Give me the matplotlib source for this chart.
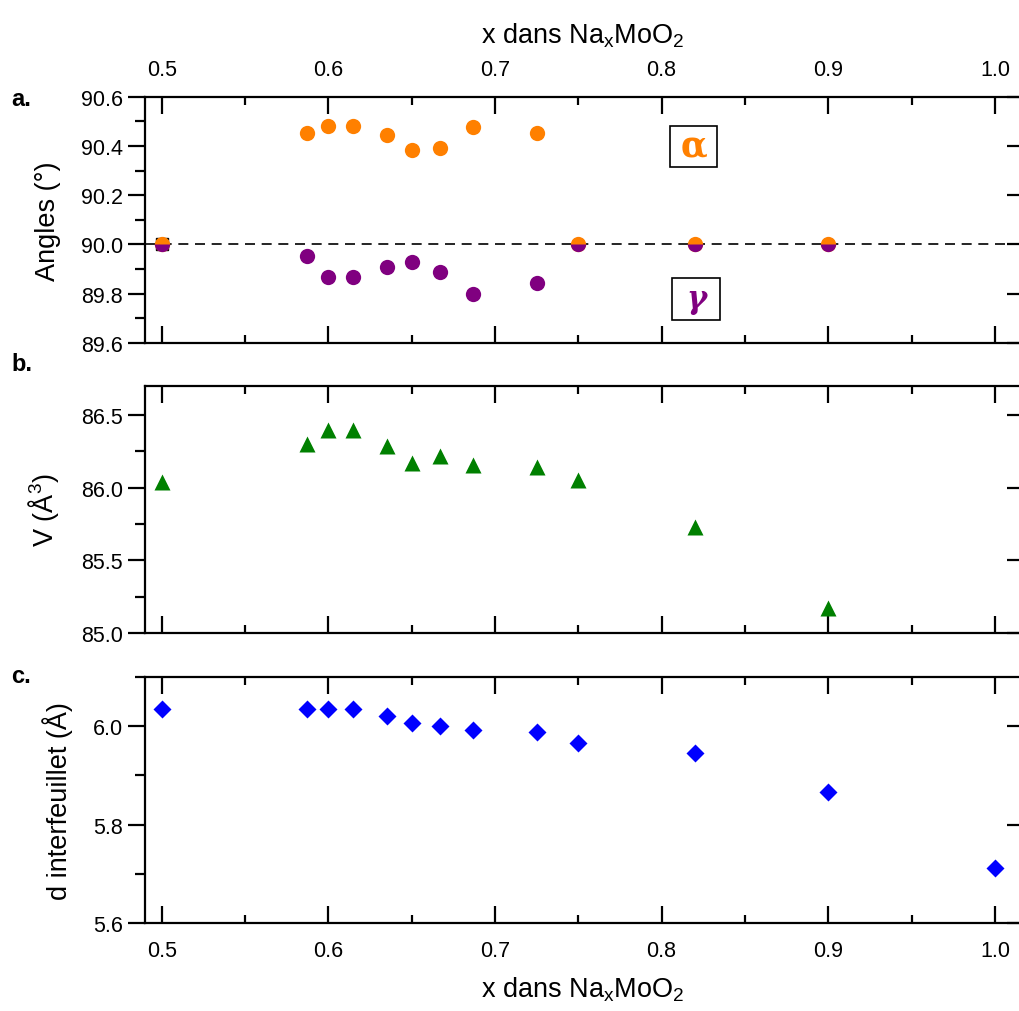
import numpy as np
import matplotlib
matplotlib.use('Agg')
import matplotlib.pyplot as plt
from matplotlib.ticker import MultipleLocator, FormatStrFormatter
from matplotlib.patches import Rectangle

plt.rcParams['font.family'] = ['Liberation Sans', 'DejaVu Sans']
plt.rcParams['mathtext.fontset'] = 'custom'
plt.rcParams['mathtext.rm'] = 'Liberation Sans'
plt.rcParams['mathtext.it'] = 'Liberation Sans'

# Sodium content x in NaxMoO2
x_angles = [0.5, 0.587, 0.6, 0.615, 0.635, 0.65, 0.667, 0.687, 0.725, 0.75, 0.82, 0.9]
alpha = [90.0, 90.451, 90.482, 90.482, 90.444, 90.385, 90.39, 90.477, 90.454, 90.0, 90.0, 90.0]
gamma = [90.0, 89.952, 89.869, 89.869, 89.91, 89.93, 89.887, 89.80, 89.842, 90.0, 90.0, 90.0]
beta_x = [0.5]
beta = [90.0]

x_vol = [0.5, 0.587, 0.6, 0.615, 0.635, 0.65, 0.667, 0.687, 0.725, 0.75, 0.82, 0.9]
volume = [86.04, 86.30, 86.40, 86.40, 86.29, 86.17, 86.22, 86.155, 86.14, 86.05, 85.73, 85.175]

x_d = [0.5, 0.587, 0.6, 0.615, 0.635, 0.65, 0.667, 0.687, 0.725, 0.75, 0.82, 0.9, 1.0]
d_inter = [6.035, 6.034, 6.034, 6.034, 6.020, 6.0075, 6.0014, 5.992, 5.988, 5.966, 5.946, 5.866, 5.713]

xlabel = 'x dans Na$_x$MoO$_2$'

fig = plt.figure(figsize=(10.2, 10.12), dpi=100)
left, width = 0.1422, 0.8585
ax1 = fig.add_axes([left, 0.6601, width, 0.2434])
ax2 = fig.add_axes([left, 0.3735, width, 0.2441])
ax3 = fig.add_axes([left, 0.0867, width, 0.2434])

for ax in (ax1, ax2, ax3):
    ax.set_xlim(0.49, 1.0155)
    ax.xaxis.set_major_locator(MultipleLocator(0.1))
    ax.xaxis.set_minor_locator(MultipleLocator(0.05))
    ax.xaxis.set_major_formatter(FormatStrFormatter('%.1f'))
    ax.yaxis.set_major_formatter(FormatStrFormatter('%.1f'))
    for s in ax.spines.values():
        s.set_linewidth(1.6)
    ax.tick_params(axis='x', which='both', direction='in', top=True, bottom=True,
                   labelbottom=False, labeltop=False, width=1.6, labelsize=15.5, pad=12)
    ax.tick_params(axis='x', which='major', length=12)
    ax.tick_params(axis='x', which='minor', length=6)
    ax.tick_params(axis='y', which='both', direction='out', width=1.6, labelsize=15.5, pad=4)
    ax.tick_params(axis='y', which='major', length=12)
    ax.tick_params(axis='y', which='minor', length=7)

# panel a: angles
ax1.axhline(90.0, color='black', lw=1.2, dashes=(6, 4), zorder=1)
ax1.plot(beta_x, beta, 's', color='black', ms=9, zorder=2)
ax1.plot(x_angles, alpha, 'o', color='#FF8000', mec='none', ms=11, zorder=3)
same = np.isclose(alpha, gamma)
xa = np.array(x_angles)
ga = np.array(gamma)
ax1.plot(xa[~same], ga[~same], 'o', color='#800080', mec='none', ms=11, zorder=4)
ax1.plot(xa[same], ga[same], 'o', color='#800080', mec='none', ms=11,
         fillstyle='bottom', markerfacecoloralt='none', zorder=4)
ax1.set_ylim(89.6, 90.6)
ax1.yaxis.set_major_locator(MultipleLocator(0.2))
ax1.yaxis.set_minor_locator(MultipleLocator(0.1))
ax1.set_ylabel('Angles (°)', fontsize=19.5, labelpad=14)
ax1.tick_params(axis='x', which='both', labeltop=True)
ax1.set_xlabel(xlabel, fontsize=19.5, labelpad=12)
ax1.xaxis.set_label_position('top')

ax1.add_patch(Rectangle((0.600, 0.7134), 0.0534, 0.1689, transform=ax1.transAxes,
                        fill=False, ec='black', lw=1.2, zorder=5))
ax1.text(0.6267, 0.80, 'α', transform=ax1.transAxes, color='#FF8000', fontsize=25,
         family='DejaVu Serif', fontweight='bold', ha='center', va='center')
ax1.add_patch(Rectangle((0.6023, 0.0946), 0.0547, 0.1705, transform=ax1.transAxes,
                        fill=False, ec='black', lw=1.2, zorder=5))
ax1.text(0.6297, 0.18, 'γ', transform=ax1.transAxes, color='#800080', fontsize=22,
         family='DejaVu Serif', style='italic', fontweight='bold', ha='center', va='center')

# panel b: volume
ax2.plot(x_vol, volume, '^', color='#008000', mec='none', ms=12)
ax2.set_ylim(85.0, 86.7)
ax2.yaxis.set_major_locator(MultipleLocator(0.5))
ax2.yaxis.set_minor_locator(MultipleLocator(0.25))
ax2.set_ylabel('V (Å$^3$)', fontsize=19.5, labelpad=14)

# panel c: interlayer distance
ax3.plot(x_d, d_inter, 'D', color='#0000FF', mec='none', ms=9)
ax3.set_ylim(5.6, 6.1)
ax3.yaxis.set_major_locator(MultipleLocator(0.2))
ax3.yaxis.set_minor_locator(MultipleLocator(0.1))
ax3.set_ylabel('d interfeuillet (Å)', fontsize=19.5, labelpad=14)
ax3.tick_params(axis='x', which='both', labelbottom=True)
ax3.set_xlabel(xlabel, fontsize=19.5, labelpad=10)

# inward right ticks (the right spine sits at the figure edge)
for ax in (ax1, ax2, ax3):
    sec = ax.secondary_yaxis('right')
    sec.set_yticks(ax.get_yticks())
    sec.tick_params(direction='in', length=10, width=1.6, labelright=False)
    sec.minorticks_off()
    sec.spines['right'].set_linewidth(1.6)

fig.text(0.011, 0.9015, 'a.', fontsize=17, fontweight='bold', va='center')
fig.text(0.011, 0.6395, 'b.', fontsize=17, fontweight='bold', va='center')
fig.text(0.011, 0.3320, 'c.', fontsize=17, fontweight='bold', va='center')

fig.savefig('out.png', dpi=100)
